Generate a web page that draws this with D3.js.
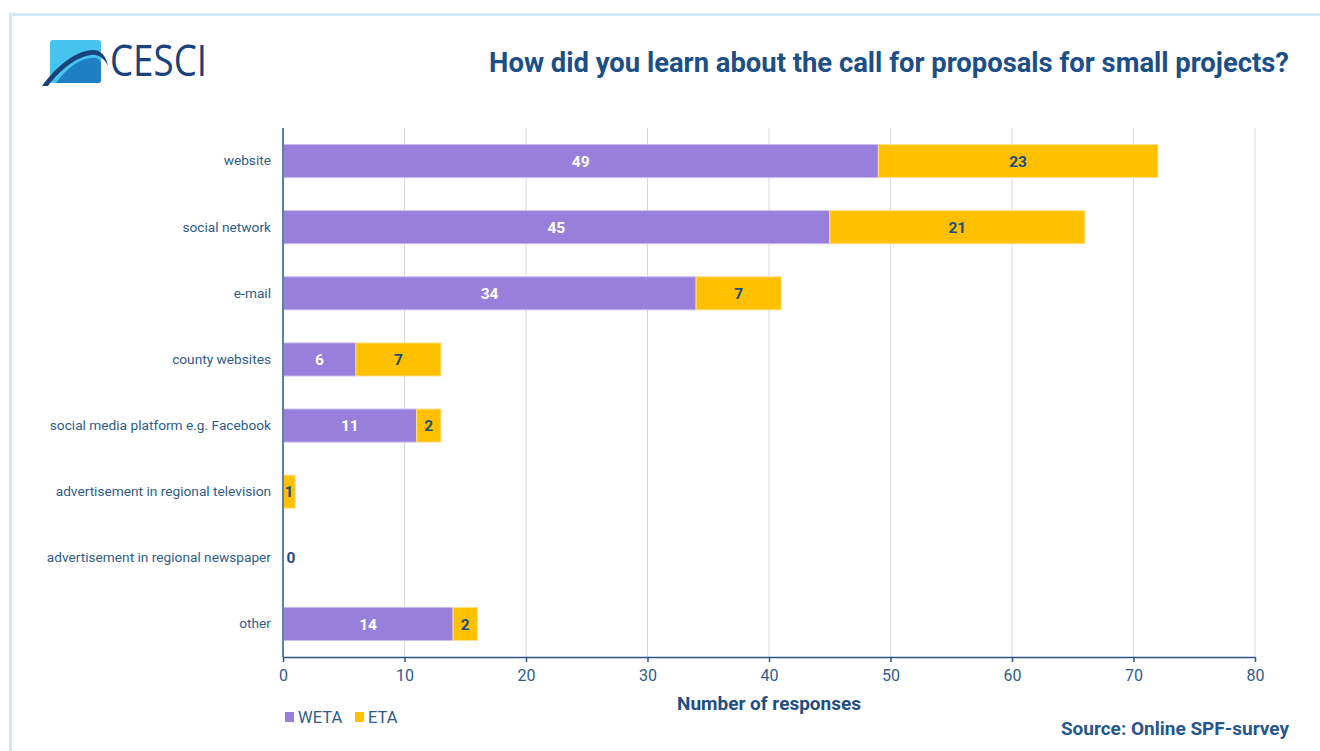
<!DOCTYPE html>
<html>
<head>
<meta charset="utf-8">
<script src="https://cdn.jsdelivr.net/npm/d3@7/dist/d3.min.js"></script>
<style>
  html, body { margin: 0; padding: 0; background: #ffffff; }
  svg { display: block; font-family: Roboto, "Noto Sans", sans-serif; }
</style>
</head>
<body>
<svg id="chart" width="1320" height="751"></svg>
<script>
// Survey answers: how respondents learned about the call
const categories = [
  "website",
  "social network",
  "e-mail",
  "county websites",
  "social media platform e.g. Facebook",
  "advertisement in regional television",
  "advertisement in regional newspaper",
  "other"
];
const wetaValues = [49, 45, 34, 6, 11, 0, 0, 14];
const etaValues  = [23, 21, 7, 7, 2, 1, 0, 2];
const seriesNames = ["WETA", "ETA"];
const xTicks = [0, 10, 20, 30, 40, 50, 60, 70, 80];

const colors = { WETA: "#977fdb", ETA: "#ffc000" };
const textBlue = "#1f4e80";
const labelBlue = "#2e5c8a";

const svg = d3.select("#chart");

// panel frame
svg.append("path")
  .attr("d", "M10.5,760 V14.5 H1330")
  .attr("fill", "none")
  .attr("stroke", "#d3e8f8")
  .attr("stroke-width", 3);

// logo mark
const logo = svg.append("g");
logo.append("rect")
  .attr("x", 50).attr("y", 40).attr("width", 51).attr("height", 43)
  .attr("rx", 3).attr("fill", "#47c3f0");
logo.append("path")
  .attr("d", "M56,83 C68,66 84,56 96,58 C99,59 101,61 101,63 L101,80 Q101,83 98,83 Z")
  .attr("fill", "#1f7fc4");
logo.append("path")
  .attr("d", "M42,86 C58,64 78,50 93,50 C101,50 106,56 108,66 C104,58 98,54 91,55 C76,57 60,70 48,86 Z")
  .attr("fill", "#17427a");
logo.append("text")
  .attr("x", 110).attr("y", 76)
  .attr("font-family", "'Open Sans', sans-serif")
  .attr("font-size", 43)
  .attr("textLength", 97)
  .attr("lengthAdjust", "spacingAndGlyphs")
  .attr("fill", "#17427a")
  .text("CESCI");

// title
svg.append("text")
  .attr("x", 1289).attr("y", 72)
  .attr("text-anchor", "end")
  .attr("font-size", 27.4)
  .attr("font-weight", 700)
  .attr("fill", "#1c4f85")
  .text("How did you learn about the call for proposals for small projects?");

const margin = { left: 283, right: 1255, top: 128, bottom: 657 };

const x = d3.scaleLinear().domain([0, 80]).range([margin.left, margin.right]);
const y = d3.scaleBand().domain(categories).range([margin.top, margin.bottom]).paddingInner(0.5).paddingOuter(0.25);

// gridlines
svg.append("g")
  .selectAll("line")
  .data(xTicks.filter(t => t > 0))
  .join("line")
  .attr("x1", d => x(d)).attr("x2", d => x(d))
  .attr("y1", margin.top).attr("y2", margin.bottom)
  .attr("stroke", "#d9d9d9")
  .attr("stroke-width", 1);

// stacked data
const rows = categories.map((c, i) => ({ category: c, WETA: wetaValues[i], ETA: etaValues[i] }));
const stacked = d3.stack().keys(seriesNames)(rows);

const layers = svg.append("g")
  .selectAll("g")
  .data(stacked)
  .join("g")
  .attr("fill", d => colors[d.key]);

layers.selectAll("rect")
  .data(d => d.map(s => ({ s, key: d.key })))
  .join("rect")
  .attr("x", d => x(d.s[0]))
  .attr("y", d => y(d.s.data.category))
  .attr("width", d => x(d.s[1]) - x(d.s[0]))
  .attr("height", y.bandwidth())
  .attr("stroke", d => d.key === "WETA" ? "#c9bdf0" : "#ffe08a")
  .attr("stroke-width", d => (d.s[1] - d.s[0]) > 0 ? 1 : 0);

// value labels
const labels = svg.append("g").attr("font-size", 15.5).attr("font-weight", 700);
stacked.forEach(layer => {
  layer.forEach(s => {
    const v = s[1] - s[0];
    const isWeta = layer.key === "WETA";
    const bothZero = s.data.WETA === 0 && s.data.ETA === 0;
    if (v === 0 && !(bothZero && !isWeta)) return;
    const cx = v === 0 ? x(s[0]) + 8 : (x(s[0]) + x(s[1])) / 2;
    labels.append("text")
      .attr("x", cx)
      .attr("y", y(s.data.category) + y.bandwidth() / 2)
      .attr("dy", "0.36em")
      .attr("text-anchor", "middle")
      .attr("fill", isWeta ? "#ffffff" : textBlue)
      .text(v);
  });
});

// category axis
const yAxis = svg.append("g")
  .attr("transform", `translate(${margin.left},0)`)
  .call(d3.axisLeft(y).tickSize(0).tickPadding(12));
yAxis.select(".domain").attr("stroke", "#5a7fa8").attr("stroke-width", 2)
  .attr("d", `M0,${margin.top}V${margin.bottom}`);
yAxis.selectAll("text")
  .attr("font-size", 13.7)
  .attr("font-family", "Roboto, sans-serif")
  .attr("fill", labelBlue);

// value axis
const xAxis = svg.append("g")
  .attr("transform", `translate(0,${margin.bottom})`)
  .call(d3.axisBottom(x).tickValues(xTicks).tickSize(5).tickPadding(8).tickSizeOuter(0));
xAxis.select(".domain").attr("stroke", "#2b5686").attr("stroke-width", 1.5);
xAxis.selectAll(".tick line").attr("stroke", "#2b5686").attr("stroke-width", 1.5);
xAxis.selectAll("text")
  .attr("font-size", 16)
  .attr("font-family", "Roboto, sans-serif")
  .attr("fill", labelBlue);

// axis title
svg.append("text")
  .attr("x", (margin.left + margin.right) / 2)
  .attr("y", 710)
  .attr("text-anchor", "middle")
  .attr("font-size", 19)
  .attr("font-weight", 700)
  .attr("fill", textBlue)
  .text("Number of responses");

// legend
const legend = svg.append("g").attr("transform", "translate(285,717)");
const legendItems = legend.selectAll("g")
  .data(seriesNames)
  .join("g")
  .attr("transform", (d, i) => `translate(${i * 70},0)`);
legendItems.append("rect")
  .attr("x", 0).attr("y", -5).attr("width", 9).attr("height", 10)
  .attr("fill", d => colors[d]);
legendItems.append("text")
  .attr("x", 13).attr("y", 0).attr("dy", "0.35em")
  .attr("font-size", 16.5)
  .attr("fill", labelBlue)
  .text(d => d);

// source note
svg.append("text")
  .attr("x", 1289).attr("y", 735)
  .attr("text-anchor", "end")
  .attr("font-size", 19)
  .attr("font-weight", 700)
  .attr("fill", "#25568c")
  .text("Source: Online SPF-survey");
</script>
</body>
</html>
